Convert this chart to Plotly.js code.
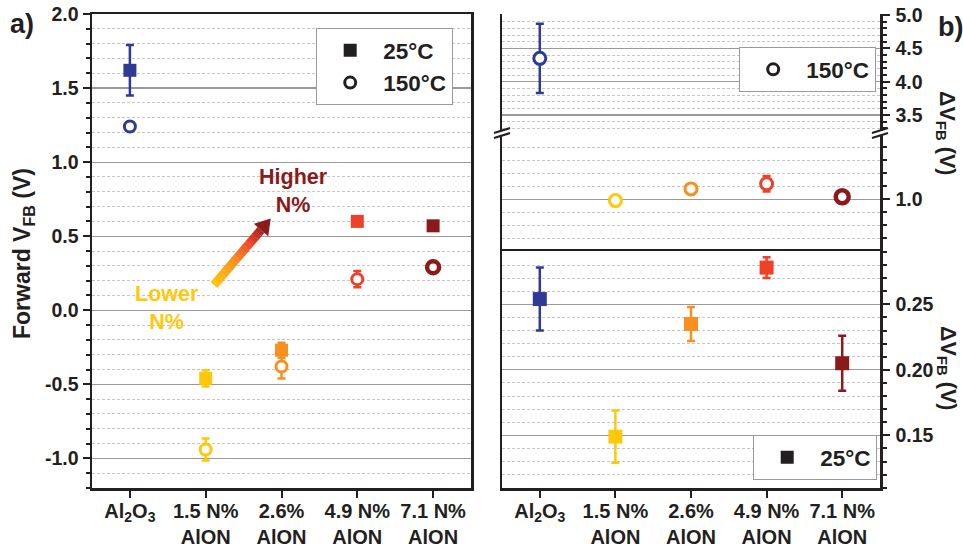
<!DOCTYPE html>
<html><head><meta charset="utf-8">
<script src="https://cdn.plot.ly/plotly-3.0.1.min.js"></script>
<style>html,body{margin:0;padding:0;background:#fff}#chart{width:963px;height:547px}</style>
</head><body><div id="chart"></div>
<script>
// ---- data ----
const categories = ['Al<sub>2</sub>O<sub>3</sub>', '1.5 N%<br>AlON', '2.6%<br>AlON', '4.9 N%<br>AlON', '7.1 N%<br>AlON'];
const colors = ['#2E3A94', '#FFC80B', '#F7901E', '#EE4128', '#8C1A1B'];
const vfb25 = [1.62, -0.46, -0.27, 0.60, 0.57];
const vfb25Err = [0.17, 0.055, 0.05, 0.02, 0.02];
const vfb150 = [1.24, -0.94, -0.38, 0.21, 0.29];
const vfb150Err = [0.02, 0.075, 0.08, 0.055, 0.02];
const dvfb150 = [4.35, 0.99, 1.08, 1.12, 1.02];
const dvfb150Err = [0.52, 0.02, 0.02, 0.06, 0.02];
const dvfb25 = [0.254, 0.149, 0.235, 0.278, 0.205];
const dvfb25Err = [0.024, 0.020, 0.013, 0.008, 0.021];
const yTicksLeft = ['-1.0', '-0.5', '0.0', '0.5', '1.0', '1.5', '2.0'];
const yTicksRightBottom = ['0.15', '0.20', '0.25'];
const yTicksRightUpper = ['3.5', '4.0', '4.5', '5.0'];
const yTicksRightLower = ['1.0'];

// ---- helpers ----
const W = 963, H = 547;
const px = x => x / W, py = y => 1 - y / H;
const FONT = 'Liberation Sans, Arial, Helvetica, sans-serif';
const INK = '#231F20';
const catIdx = categories.map((_, i) => i);

const traces = [];
function addPoint(xa, ya, c, v, e, col, sym, size, lw) {
  const open = sym === 'circle';
  traces.push({
    type: 'scatter', mode: 'markers', x: [c], y: [v], xaxis: xa, yaxis: ya,
    error_y: {type: 'data', array: [e], color: col, thickness: 2.5, width: 4},
    marker: {symbol: sym, size: size, color: open ? '#ffffff' : col, line: {width: lw, color: col}},
    showlegend: false, hoverinfo: 'skip', cliponaxis: false
  });
}
categories.forEach((c, i) => {
  addPoint('x', 'y', c, vfb25[i], vfb25Err[i], colors[i], 'square', 13, 0);
  addPoint('x', 'y', c, vfb150[i], vfb150Err[i], colors[i], 'circle', i === 4 ? 12 : 11, i === 4 ? 4.5 : 3);
  addPoint('x3', 'y3', c, dvfb25[i], dvfb25Err[i], colors[i], 'square', 14, 0);
  addPoint('x3', dvfb150[i] > 3 ? 'y5' : 'y7', c, dvfb150[i], dvfb150Err[i], colors[i], 'circle', i === 4 ? 13 : 12, i === 4 ? 4.5 : 3);
});
// legend entries
traces.push({type:'scatter', mode:'markers', x:[null], y:[null], xaxis:'x', yaxis:'y', name:'25°C', legend:'legend', legendgroup:'a',
  marker:{symbol:'square', size:13, color:INK}, hoverinfo:'skip'});
traces.push({type:'scatter', mode:'markers', x:[null], y:[null], xaxis:'x', yaxis:'y', name:'150°C', legend:'legend', legendgroup:'b',
  marker:{symbol:'circle', size:11, color:'#ffffff', line:{width:3, color:INK}}, hoverinfo:'skip'});
traces.push({type:'scatter', mode:'markers', x:[null], y:[null], xaxis:'x3', yaxis:'y5', name:'150°C', legend:'legend2',
  marker:{symbol:'circle', size:11, color:'#ffffff', line:{width:3, color:INK}}, hoverinfo:'skip'});
traces.push({type:'scatter', mode:'markers', x:[null], y:[null], xaxis:'x3', yaxis:'y3', name:'25°C', legend:'legend3',
  marker:{symbol:'square', size:13, color:INK}, hoverinfo:'skip'});

const tickFont = {family: FONT, size: 19.5, color: INK, weight: 'bold'};
const base = {color: INK, linecolor: INK, linewidth: 2.5, tickcolor: INK, tickwidth: 2, tickfont: tickFont, zeroline: false, fixedrange: true};
const majorGrid = {showgrid: true, gridcolor: '#9a9a9a', gridwidth: 1.2};
function minor(dt, dir) {
  return {dtick: dt, tick0: 0, ticks: dir, ticklen: 4, tickwidth: 2, tickcolor: INK,
    showgrid: dir === 'outside', gridcolor: '#c6c6c6', griddash: '3px,2px', gridwidth: 1};
}
function yMain(dom, anchor, rng, labels, side, dt) {
  return Object.assign({}, base, majorGrid, {
    domain: dom, anchor: anchor, range: rng, side: side, tickmode: 'array',
    tickvals: labels.map(Number), ticktext: labels, ticks: 'outside', ticklen: 7,
    showline: true, mirror: true, minor: minor(dt, 'outside'), ticklabelstandoff: side === 'left' ? 0 : 2
  });
}
function yMirror(over, rng, labels, side, dt) {
  return {overlaying: over, side: side, range: rng, tickmode: 'array', tickvals: labels.map(Number),
    ticks: 'inside', ticklen: 7, tickwidth: 2, tickcolor: INK, showticklabels: false,
    showgrid: false, showline: false, zeroline: false, fixedrange: true, minor: minor(dt, 'inside')};
}
function xTop(over, anchor, line) {
  return {overlaying: over, anchor: anchor, side: 'top', range: [-0.5, 4.5], tickmode: 'array', tickvals: catIdx,
    ticks: 'inside', ticklen: 7, tickwidth: 2, tickcolor: INK, showticklabels: false, showgrid: false,
    showline: line, linecolor: INK, linewidth: 2.5, zeroline: false, fixedrange: true};
}

const Lx = [px(92), px(471)], Rx = [px(502), px(880)];
const rngL = [-1.2, 2.0];
const rngRB = [0.15 - (488 - 435.3) / 1310, 0.25 + (304.3 - 251) / 1310];
const rngRU = [5.0 - (131 - 15) / 66.7, 5.0 + 1 / 66.7];
const rngRL = [1.0 - (250 - 199.3) / 130, 1.0 + (199.3 - 135) / 130];

const xCat = dom => Object.assign({}, base, {domain: dom, type: 'category', categoryorder: 'array', categoryarray: categories,
  range: [-0.5, 4.5], ticks: 'outside', ticklen: 7, showline: true, mirror: true, showgrid: false,
  ticklabelstandoff: -4, tickfont: Object.assign({}, tickFont, {size: 20})});

const shapes = [];
// gradient arrow
const stops = [[0, [255, 200, 11]], [0.4, [247, 144, 30]], [0.72, [238, 65, 40]], [1, [140, 26, 27]]];
function colAt(t) {
  for (let k = 1; k < stops.length; k++) {
    if (t <= stops[k][0]) {
      const a = stops[k - 1], b = stops[k], f = (t - a[0]) / (b[0] - a[0]);
      const c = a[1].map((v, j) => Math.round(v + (b[1][j] - v) * f));
      return 'rgb(' + c.join(',') + ')';
    }
  }
  return 'rgb(140,26,27)';
}
const A0 = [214, 285], A1 = [261, 230];
const N = 16;
for (let k = 0; k < N; k++) {
  const t0 = k / N, t1 = (k + 1.05) / N;
  shapes.push({type: 'line', xref: 'paper', yref: 'paper',
    x0: px(A0[0] + (A1[0] - A0[0]) * t0), y0: py(A0[1] + (A1[1] - A0[1]) * t0),
    x1: px(A0[0] + (A1[0] - A0[0]) * Math.min(t1, 1)), y1: py(A0[1] + (A1[1] - A0[1]) * Math.min(t1, 1)),
    line: {color: colAt((k + 0.5) / N * 0.92), width: 9}});
}
{
  const dx = A1[0] - A0[0], dy = A1[1] - A0[1], L = Math.hypot(dx, dy);
  const u = [dx / L, dy / L], n = [-u[1], u[0]];
  const tip = [A1[0] + 15 * u[0], A1[1] + 15 * u[1]];
  const b1 = [A1[0] + 9.5 * n[0], A1[1] + 9.5 * n[1]], b2 = [A1[0] - 9.5 * n[0], A1[1] - 9.5 * n[1]];
  shapes.push({type: 'path', xref: 'paper', yref: 'paper',
    path: `M ${px(tip[0])} ${py(tip[1])} L ${px(b1[0])} ${py(b1[1])} L ${px(b2[0])} ${py(b2[1])} Z`,
    fillcolor: '#8C1A1B', line: {width: 0}});
}
// axis break marks
[502, 880].forEach(xb => {
  [130.5, 135.5].forEach(yb => {
    shapes.push({type: 'line', xref: 'paper', yref: 'paper',
      x0: px(xb - 8), y0: py(yb + 2.5), x1: px(xb + 8), y1: py(yb - 2.5), line: {color: INK, width: 2.2}});
  });
});

const annFont = (size, color) => ({family: FONT, size: size, color: color, weight: 'bold'});
const ann = (text, x, y, size, color, angle) => ({text: text, x: px(x), y: py(y), xref: 'paper', yref: 'paper',
  xanchor: 'center', yanchor: 'middle', showarrow: false, textangle: angle || 0, font: annFont(size, color)});
const annotations = [
  ann('a)', 22, 24, 27, INK),
  ann('b)', 950, 27, 27, INK),
  ann('Forward V<sub>FB</sub> (V)', 24, 254, 23, INK, -90),
  ann('ΔV<sub>FB</sub> (V)', 946, 133, 21.5, INK, 90),
  ann('ΔV<sub>FB</sub> (V)', 947, 368, 21.5, INK, 90),
  ann('Higher<br>N%', 293, 191, 21.5, '#8C1A1B'),
  ann('Lower<br>N%', 167, 308, 21.5, '#FFC80B')
];

const legendBase = {xanchor: 'left', yanchor: 'top', bgcolor: '#ffffff', bordercolor: '#9a9a9a', borderwidth: 1.2,
  font: {family: FONT, size: 22.5, color: INK, weight: 'bold'}, itemwidth: 56, itemclick: false, itemdoubleclick: false};

const layout = {
  width: W, height: H, margin: {l: 0, r: 0, t: 0, b: 0},
  paper_bgcolor: '#fff', plot_bgcolor: '#fff', hovermode: false, showlegend: true,
  xaxis: Object.assign(xCat(Lx), {anchor: 'y'}),
  xaxis2: xTop('x', 'y', false),
  yaxis: yMain([py(488), py(14)], 'x', rngL, yTicksLeft, 'left', 0.1),
  yaxis2: yMirror('y', rngL, yTicksLeft, 'right', 0.1),
  xaxis3: Object.assign(xCat(Rx), {anchor: 'y3'}),
  xaxis4: xTop('x3', 'y5', true),
  yaxis3: yMain([py(488), py(251)], 'x3', rngRB, yTicksRightBottom, 'right', 0.01),
  yaxis4: yMirror('y3', rngRB, yTicksRightBottom, 'left', 0.01),
  yaxis5: yMain([py(131), py(14)], 'x3', rngRU, yTicksRightUpper, 'right', 0.1),
  yaxis6: yMirror('y5', rngRU, yTicksRightUpper, 'left', 0.1),
  yaxis7: yMain([py(250), py(135)], 'x3', rngRL, yTicksRightLower, 'right', 0.1),
  yaxis8: yMirror('y7', rngRL, yTicksRightLower, 'left', 0.1),
  legend: Object.assign({}, legendBase, {x: px(316), y: py(28), traceorder: 'grouped', tracegroupgap: 0}),
  legend2: Object.assign({}, legendBase, {x: px(739), y: py(47)}),
  legend3: Object.assign({}, legendBase, {x: px(753), y: py(435)}),
  shapes: shapes, annotations: annotations
};

Plotly.newPlot('chart', traces, layout, {staticPlot: true, displayModeBar: false});
</script></body></html>
